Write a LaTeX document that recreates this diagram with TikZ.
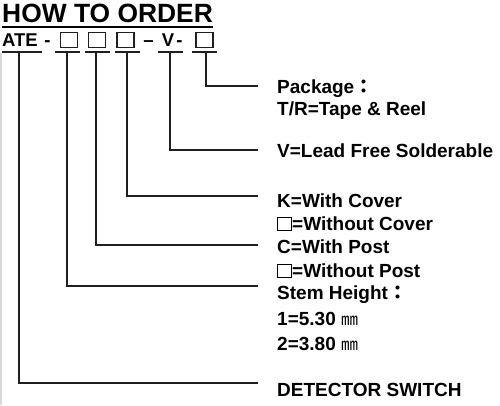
\documentclass[tikz,border=0pt]{standalone}
\usepackage{fontspec}
\setmainfont{Liberation Sans}
\newfontfamily\cjk{Noto Sans CJK TC}
\newcommand\sqb{{\setlength\fboxsep{0pt}\setlength\fboxrule{0.9pt}\fbox{\rule{0pt}{12.6pt}\hspace{13.2pt}}}}
\begin{document}
\begin{tikzpicture}[x=1pt,y=-1pt,
  ln/.style={line width=1.3pt, draw=black!88},
  uln/.style={line width=1.6pt, draw=black!88},
  lbl/.style={anchor=base west, inner sep=0pt, font=\fontsize{19}{22}\selectfont\bfseries},
  top/.style={anchor=base, inner sep=0pt, font=\fontsize{18.5}{20}\selectfont\bfseries},
  sqnode/.style={draw=black!88, line width=1.3pt, minimum width=17pt, minimum height=15pt, inner sep=0pt}]
\fill[white] (0,0) rectangle (500,405);
\useasboundingbox (0,0) rectangle (500,405);
\draw[line width=2pt, black!15] (1,53) -- (1,405);
% title
\node[anchor=base west, inner sep=0pt, font=\fontsize{26.4}{30}\selectfont\bfseries] (title) at (2,22) {HOW TO ORDER};
\draw[line width=2pt] ([yshift=-5pt]title.base west) -- ([yshift=-5pt]title.base east);
% code row
\node[anchor=base west, inner sep=0pt, font=\fontsize{18.5}{20}\selectfont\bfseries] (ate) at (2,46) {ATE};
\node[top] (d1) at (47.5,46) {-};
\node[sqnode] (b1) at (69,40) {};
\node[sqnode] (b2) at (97,40) {};
\node[sqnode] (b3) at (125.5,40) {};
\node[top] (d2) at (148.5,46) {–};
\node[top] (v) at (168,46) {V};
\node[top] (d3) at (179.5,46) {-};
\node[sqnode] (b4) at (204.5,40) {};
% underlines
\draw[uln] (2,52) -- (42,52);
\draw[uln] (55,52) -- (80,52);
\draw[uln] (85,52) -- (110,52);
\draw[uln] (115,52) -- (140,52);
\draw[uln] (158,52) -- (183,52);
\draw[uln] (192,52) -- (217,52);
% connector start points
\coordinate (sa) at (19,52);
\coordinate (s1) at (67,52);
\coordinate (s2) at (96,52);
\coordinate (s3) at (127,52);
\coordinate (sv) at (170,52);
\coordinate (s4) at (206,52);
% connector end points
\coordinate (ea) at (258,383);
\coordinate (e1) at (258,286);
\coordinate (e2) at (258,245);
\coordinate (e3) at (258,196);
\coordinate (ev) at (258,150);
\coordinate (e4) at (258,86);
\draw[ln] (sa) |- (ea);
\draw[ln] (s1) |- (e1);
\draw[ln] (s2) |- (e2);
\draw[ln] (s3) |- (e3);
\draw[ln] (sv) |- (ev);
\draw[ln] (s4) |- (e4);
% labels
\node[lbl] (pk) at (277,93) {Package{\cjk\bfseries ：}};
\node[lbl] (tr) at (277,115) {T/R=Tape \& Reel};
\node[lbl] (lf) at (277,157) {V=Lead Free Solderable};
\node[lbl] (kc) at (277,207) {K=With Cover};
\node[lbl] (wc) at (277,230) {\sqb=Without Cover};
\node[lbl] (cp) at (277,253) {C=With Post};
\node[lbl] (wp) at (277,277) {\sqb=Without Post};
\node[lbl] (sh) at (277,299) {Stem Height{\cjk\bfseries ：}};
\node[lbl] (h1) at (277,325) {1=5.30 {\cjk\mdseries\fontsize{17}{20}\selectfont ㎜}};
\node[lbl] (h2) at (277,350) {2=3.80 {\cjk\mdseries\fontsize{17}{20}\selectfont ㎜}};
\node[lbl] (ds) at (277,396) {DETECTOR SWITCH};
\end{tikzpicture}
\end{document}
